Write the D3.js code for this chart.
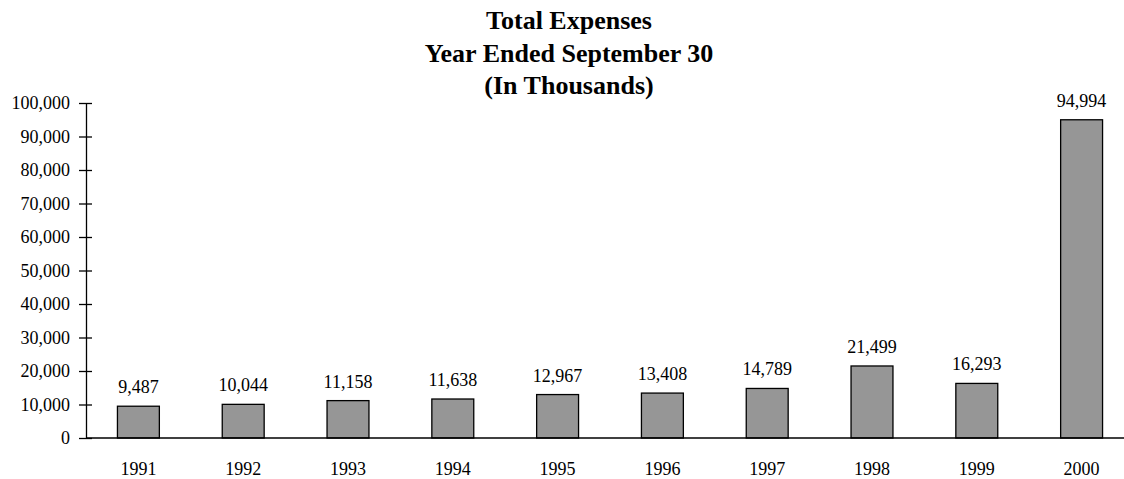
<!DOCTYPE html>
<html>
<head>
<meta charset="utf-8">
<script src="https://cdn.jsdelivr.net/npm/d3@7.9.0/dist/d3.min.js"></script>
<style>
  body { margin: 0; background: #fff; }
  text { font-family: "Liberation Serif", "Times New Roman", serif; fill: #000; }
</style>
</head>
<body>
<svg id="chart" width="1124" height="479"></svg>
<script>
const years = ['1991', '1992', '1993', '1994', '1995', '1996', '1997', '1998', '1999', '2000'];
const expenses = [9487, 10044, 11158, 11638, 12967, 13408, 14789, 21499, 16293, 94994];
const yTicks = [0, 10000, 20000, 30000, 40000, 50000, 60000, 70000, 80000, 90000, 100000];
const titleLines = ['Total Expenses', 'Year Ended September 30', '(In Thousands)'];

const svg = d3.select('#chart');

// plot box
const plotLeft = 86, plotRight = 1134, plotTop = 103, plotBottom = 438;

let x = d3.scaleBand()
  .domain(years)
  .range([plotLeft, plotRight])
  .paddingInner(0.6)
  .paddingOuter(0.3);

let y = d3.scaleLinear()
  .domain([0, 100000])
  .range([plotBottom, plotTop]);

const fmt = d3.format(',');

// title
svg.append('g')
  .selectAll('text')
  .data(titleLines)
  .join('text')
  .attr('x', 569)
  .attr('y', (d, i) => 29 + i * 32.5)
  .attr('text-anchor', 'middle')
  .attr('font-size', 26)
  .attr('font-weight', 'bold')
  .text(d => d);

// y axis
let yAxis = svg.append('g')
  .attr('transform', `translate(${plotLeft},0)`)
  .call(d3.axisLeft(y).tickValues(yTicks).tickFormat(fmt).tickSize(7).tickSizeOuter(0));
yAxis.select('.domain').attr('stroke', '#000').attr('stroke-width', 1.3);
yAxis.selectAll('.tick line').attr('x2', 6).attr('x1', -7).attr('stroke', '#000').attr('stroke-width', 1.3);
yAxis.selectAll('.tick text')
  .attr('x', -16)
  .attr('font-size', 18)
  .attr('font-family', '"Liberation Serif", serif')
  .attr('fill', '#000');

// bars
svg.append('g')
  .selectAll('rect')
  .data(expenses)
  .join('rect')
  .attr('x', (d, i) => x(years[i]))
  .attr('y', d => y(d))
  .attr('width', x.bandwidth())
  .attr('height', d => y(0) - y(d))
  .attr('fill', '#969696')
  .attr('stroke', '#000')
  .attr('stroke-width', 1.3);

// x axis line
svg.append('line')
  .attr('x1', plotLeft)
  .attr('x2', 1124)
  .attr('y1', y(0))
  .attr('y2', y(0))
  .attr('stroke', '#000')
  .attr('stroke-width', 1.3);

// value labels
svg.append('g')
  .selectAll('text')
  .data(expenses)
  .join('text')
  .attr('x', (d, i) => x(years[i]) + x.bandwidth() / 2)
  .attr('y', d => y(d) - 13)
  .attr('text-anchor', 'middle')
  .attr('font-size', 18)
  .text(d => fmt(d));

// year labels
svg.append('g')
  .selectAll('text')
  .data(years)
  .join('text')
  .attr('x', d => x(d) + x.bandwidth() / 2)
  .attr('y', 475)
  .attr('text-anchor', 'middle')
  .attr('font-size', 18)
  .text(d => d);
</script>
</body>
</html>
